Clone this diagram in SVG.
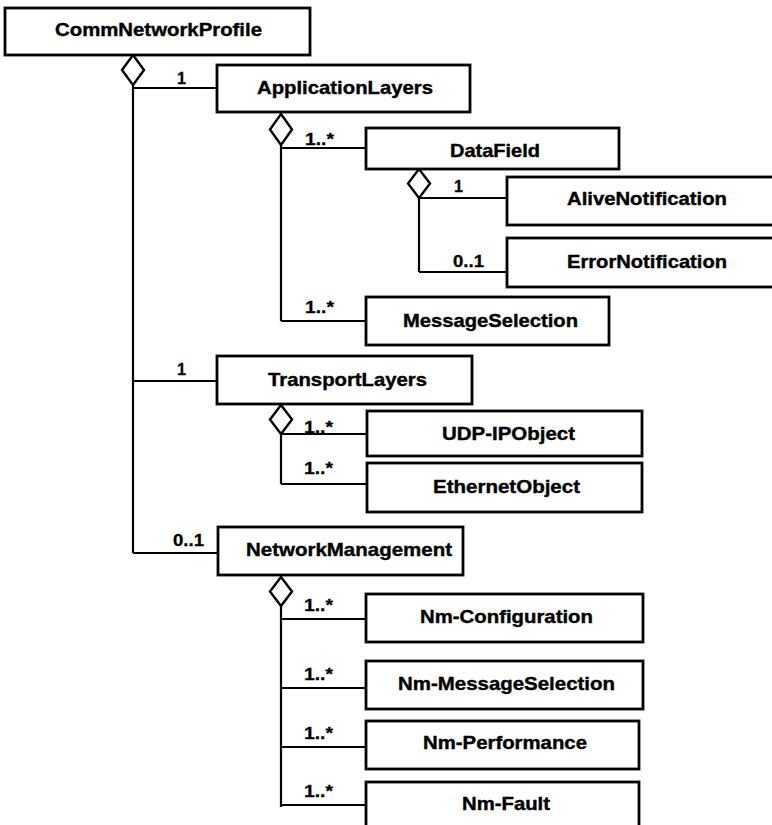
<svg xmlns="http://www.w3.org/2000/svg" width="772" height="825" viewBox="0 0 772 825">
<style>
.box{fill:#fff;stroke:#000;stroke-width:2.8}
.t{font-family:"Liberation Sans",Arial,sans-serif;font-weight:bold;font-size:19px;text-anchor:middle;fill:#000;stroke:#000;stroke-width:0.4}
.m{font-family:"Liberation Sans",Arial,sans-serif;font-weight:bold;font-size:17px;fill:#000;stroke:#000;stroke-width:0.3}
.ln{fill:none;stroke:#000;stroke-width:2.2}
.dm{fill:#fff;stroke:#000;stroke-width:2.4}
</style>
<rect width="772" height="825" fill="#fff"/>
<g id="connectors">
<path class="ln" d="M133 85V553M133 88H217M133 381H217M133 553H218"/>
<path class="dm" d="M133 55L144 70L133 85L122 70Z"/>
<path class="ln" d="M281 145V321M281 148H366M281 321H366"/>
<path class="dm" d="M281 114L292 129.5L281 145L270 129.5Z"/>
<path class="ln" d="M419 198V272M419 198H507M419 272H507"/>
<path class="dm" d="M419 169L430 183.5L419 198L408 183.5Z"/>
<path class="ln" d="M281 434V484M281 434H367M281 484H367"/>
<path class="dm" d="M281 405L292 419.5L281 434L270 419.5Z"/>
<path class="ln" d="M281 606V807M281 619H366M281 688H366M281 747H366M281 805H366"/>
<path class="dm" d="M281 577L292 591.5L281 606L270 591.5Z"/>
<text class="m" x="177" y="84" textLength="9" lengthAdjust="spacingAndGlyphs">1</text>
<text class="m" x="305" y="145" textLength="29" lengthAdjust="spacingAndGlyphs">1..*</text>
<text class="m" x="454" y="192" textLength="9" lengthAdjust="spacingAndGlyphs">1</text>
<text class="m" x="453" y="267" textLength="31" lengthAdjust="spacingAndGlyphs">0..1</text>
<text class="m" x="305" y="313" textLength="29" lengthAdjust="spacingAndGlyphs">1..*</text>
<text class="m" x="177" y="375" textLength="9" lengthAdjust="spacingAndGlyphs">1</text>
<text class="m" x="304" y="433" textLength="29" lengthAdjust="spacingAndGlyphs">1..*</text>
<text class="m" x="304" y="474" textLength="29" lengthAdjust="spacingAndGlyphs">1..*</text>
<text class="m" x="173" y="546" textLength="31" lengthAdjust="spacingAndGlyphs">0..1</text>
<text class="m" x="304" y="611" textLength="29" lengthAdjust="spacingAndGlyphs">1..*</text>
<text class="m" x="304" y="680" textLength="29" lengthAdjust="spacingAndGlyphs">1..*</text>
<text class="m" x="304" y="739" textLength="29" lengthAdjust="spacingAndGlyphs">1..*</text>
<text class="m" x="304" y="797" textLength="29" lengthAdjust="spacingAndGlyphs">1..*</text>
</g>
<g id="CommNetworkProfile"><rect class="box" x="5" y="8" width="305" height="47"/><text class="t" x="158.5" y="36" textLength="207" lengthAdjust="spacingAndGlyphs">CommNetworkProfile</text></g>
<g id="ApplicationLayers"><rect class="box" x="217" y="65" width="253" height="47"/><text class="t" x="345" y="94" textLength="176" lengthAdjust="spacingAndGlyphs">ApplicationLayers</text></g>
<g id="DataField"><rect class="box" x="366" y="128" width="253" height="41"/><text class="t" x="495" y="157" textLength="90" lengthAdjust="spacingAndGlyphs">DataField</text></g>
<g id="AliveNotification"><rect class="box" x="507" y="177" width="270" height="48"/><text class="t" x="647" y="205" textLength="160" lengthAdjust="spacingAndGlyphs">AliveNotification</text></g>
<g id="ErrorNotification"><rect class="box" x="507" y="238" width="270" height="49"/><text class="t" x="647" y="268" textLength="160" lengthAdjust="spacingAndGlyphs">ErrorNotification</text></g>
<g id="MessageSelection"><rect class="box" x="366" y="297" width="243" height="48"/><text class="t" x="490.5" y="327" textLength="175" lengthAdjust="spacingAndGlyphs">MessageSelection</text></g>
<g id="TransportLayers"><rect class="box" x="217" y="356" width="255" height="48"/><text class="t" x="347.5" y="386" textLength="159" lengthAdjust="spacingAndGlyphs">TransportLayers</text></g>
<g id="UDP-IPObject"><rect class="box" x="367" y="411" width="275" height="45"/><text class="t" x="508.5" y="440" textLength="133" lengthAdjust="spacingAndGlyphs">UDP-IPObject</text></g>
<g id="EthernetObject"><rect class="box" x="367" y="463" width="275" height="49"/><text class="t" x="506.5" y="493" textLength="147" lengthAdjust="spacingAndGlyphs">EthernetObject</text></g>
<g id="NetworkManagement"><rect class="box" x="218" y="527" width="245" height="48"/><text class="t" x="349" y="556" textLength="206" lengthAdjust="spacingAndGlyphs">NetworkManagement</text></g>
<g id="Nm-Configuration"><rect class="box" x="366" y="594" width="277" height="48"/><text class="t" x="506.5" y="623" textLength="173" lengthAdjust="spacingAndGlyphs">Nm-Configuration</text></g>
<g id="Nm-MessageSelection"><rect class="box" x="366" y="661" width="277" height="48"/><text class="t" x="506.5" y="690" textLength="217" lengthAdjust="spacingAndGlyphs">Nm-MessageSelection</text></g>
<g id="Nm-Performance"><rect class="box" x="366" y="721" width="273" height="48"/><text class="t" x="505" y="749" textLength="164" lengthAdjust="spacingAndGlyphs">Nm-Performance</text></g>
<g id="Nm-Fault"><rect class="box" x="366" y="782" width="273" height="60"/><text class="t" x="506" y="810" textLength="88" lengthAdjust="spacingAndGlyphs">Nm-Fault</text></g>
</svg>
